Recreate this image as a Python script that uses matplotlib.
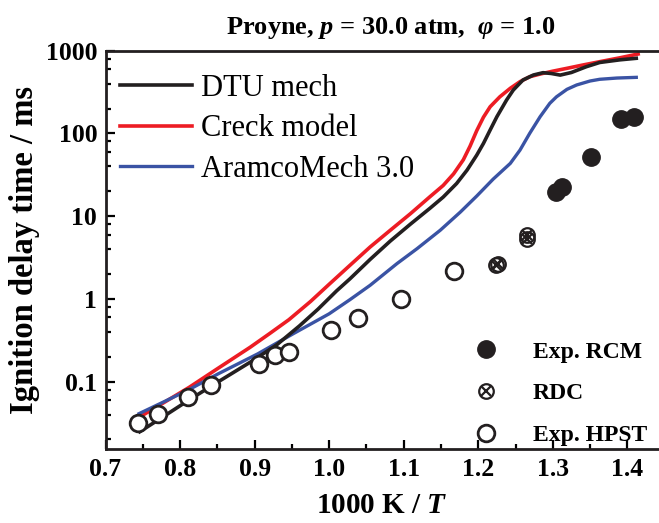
import matplotlib
matplotlib.use("Agg")
import matplotlib.pyplot as plt
from matplotlib.legend_handler import HandlerTuple

plt.rcParams["font.family"] = ["Liberation Serif", "DejaVu Serif"]
plt.rcParams["mathtext.fontset"] = "custom"
plt.rcParams["mathtext.rm"] = "Liberation Serif:bold"
plt.rcParams["mathtext.it"] = "Liberation Serif:italic:bold"
plt.rcParams["mathtext.bf"] = "Liberation Serif:bold"

# model curves (1000/T, ms)
dtu_x = [0.746, 0.78, 0.812, 0.85, 0.90, 0.93, 0.96, 0.985, 1.010, 1.028, 1.055,
         1.082, 1.109, 1.135, 1.153, 1.171, 1.185, 1.198, 1.207, 1.216, 1.225,
         1.238, 1.247, 1.260, 1.274, 1.287, 1.298, 1.31, 1.325, 1.345, 1.363,
         1.39, 1.412]
dtu_y = [0.0248, 0.039, 0.060, 0.098, 0.185, 0.28, 0.47, 0.75, 1.25, 1.75, 3.0,
         5.0, 8.0, 12.4, 17.0, 24.8, 36, 54.6, 75.7, 110, 159,
         253, 334, 442, 508, 542, 530, 507, 545, 640, 720,
         775, 809]

creck_x = [0.745, 0.78, 0.812, 0.85, 0.894, 0.92, 0.946, 0.975, 1.001, 1.028,
           1.055, 1.082, 1.109, 1.135, 1.153, 1.167, 1.18, 1.189, 1.198, 1.207,
           1.216, 1.229, 1.243, 1.256, 1.269, 1.283, 1.30, 1.319, 1.34, 1.363,
           1.39, 1.4145]
creck_y = [0.037, 0.057, 0.085, 0.143, 0.26, 0.38, 0.56, 0.93, 1.53, 2.55,
           4.24, 6.75, 10.7, 17.1, 23.5, 32.5, 48, 70, 108, 157,
           210, 277, 351, 422, 484, 522, 565, 612, 670, 736,
           820, 912]

aramco_x = [0.745, 0.78, 0.812, 0.851, 0.904, 0.952, 1.0, 1.028, 1.055, 1.091,
            1.118, 1.149, 1.176, 1.198, 1.22, 1.243, 1.256, 1.269, 1.283, 1.296,
            1.305, 1.319, 1.332, 1.35, 1.363, 1.386, 1.412]
aramco_y = [0.041, 0.058, 0.080, 0.124, 0.216, 0.38, 0.66, 0.98, 1.46, 2.67,
            4.05, 6.75, 11.2, 17.5, 28, 43.4, 62.8, 100, 159, 231,
            277, 341, 385, 430, 451, 467, 476]

# experiments
rcm_x = [1.304, 1.313, 1.351, 1.391, 1.409]
rcm_y = [19.5, 22.5, 51.2, 148, 160]

rdc_x = [1.224, 1.226, 1.265, 1.265]
rdc_y = [2.6, 2.65, 5.3, 6.0]

hpst_x = [0.744, 0.770, 0.811, 0.842, 0.906, 0.927, 0.946, 1.003, 1.039, 1.096, 1.167]
hpst_y = [0.0316, 0.041, 0.065, 0.092, 0.164, 0.21, 0.231, 0.426, 0.589, 0.99, 2.16]

x_ticks = [0.7, 0.8, 0.9, 1.0, 1.1, 1.2, 1.3, 1.4]
x_ticklabels = ["0.7", "0.8", "0.9", "1.0", "1.1", "1.2", "1.3", "1.4"]
y_ticks = [0.1, 1, 10, 100, 1000]
y_ticklabels = ["0.1", "1", "10", "100", "1000"]

BLACK = "#231f20"
RED = "#ed1c24"
BLUE = "#3a53a4"

fig = plt.figure(figsize=(6.59, 5.23), dpi=100)
ax = fig.add_axes([0.1601, 0.1409, 0.8399, 0.7622])

l1, = ax.plot(dtu_x, dtu_y, color=BLACK, lw=2.6, label="DTU mech", zorder=3)
l2, = ax.plot(creck_x, creck_y, color=RED, lw=2.6, label="Creck model", zorder=2)
l3, = ax.plot(aramco_x, aramco_y, color=BLUE, lw=2.4, label="AramcoMech 3.0", zorder=2)

m1, = ax.plot(rcm_x, rcm_y, "o", color=BLACK, ms=12.5, mec=BLACK, ls="none", zorder=4)
m2a, = ax.plot(rdc_x, rdc_y, "o", mfc="none", mec=BLACK, ms=10.5, mew=1.6, ls="none", zorder=4)
m2b, = ax.plot(rdc_x, rdc_y, "x", color=BLACK, ms=7.5, mew=1.6, ls="none", zorder=4)
m3, = ax.plot(hpst_x, hpst_y, "o", mfc="white", mec=BLACK, ms=12, mew=2.0, ls="none", zorder=4)

ax.set_yscale("log")
ax.set_xlim(0.7, 1.4425)
ax.set_ylim(0.0152, 1000)

ax.set_xticks(x_ticks)
ax.set_xticklabels(x_ticklabels)
ax.set_xticks([0.75, 0.85, 0.95, 1.05, 1.15, 1.25, 1.35], minor=True)
ax.set_yticks(y_ticks)
ax.set_yticklabels(y_ticklabels)
ax.yaxis.set_minor_locator(matplotlib.ticker.LogLocator(base=10, subs=[2, 4, 6, 8]))
ax.yaxis.set_minor_formatter(matplotlib.ticker.NullFormatter())

ax.tick_params(which="both", direction="in", top=False, right=False,
               labelsize=18.5, width=1.6, pad=6)
ax.tick_params(which="major", length=6.5)
ax.tick_params(which="minor", length=3.6)
for lab in ax.get_xticklabels() + ax.get_yticklabels():
    lab.set_fontweight("bold")

for s in ["left", "bottom", "top"]:
    ax.spines[s].set_linewidth(2.0)
    ax.spines[s].set_color(BLACK)
ax.spines["right"].set_visible(False)

ax.set_xlabel("1000 K / $T$", fontsize=21, fontweight="bold", labelpad=8)
ax.set_ylabel("Ignition delay time / ms", fontsize=23.5, fontweight="bold", labelpad=4)

fig.text(0.592, 0.947, "Proyne, $p$ = 30.0 atm,  $\\varphi$ = 1.0",
         ha="center", va="center", fontsize=19, fontweight="bold")

leg1 = ax.legend([l1, l2, l3], ["DTU mech", "Creck model", "AramcoMech 3.0"],
                 loc="upper left", bbox_to_anchor=(0.005, 0.973), frameon=False,
                 fontsize=22, handlelength=2.35, handletextpad=0.3,
                 labelspacing=0.38, borderaxespad=0)
ax.add_artist(leg1)

ax.legend([m1, (m2a, m2b), m3], ["Exp. RCM", "RDC", "Exp. HPST"],
          loc="lower right", bbox_to_anchor=(0.995, -0.015), frameon=False,
          prop={"size": 17, "weight": "bold"}, handlelength=1.0,
          handletextpad=1.45, labelspacing=0.85, borderaxespad=0,
          handler_map={tuple: HandlerTuple(ndivide=1)})

fig.savefig("out.png", dpi=100)
